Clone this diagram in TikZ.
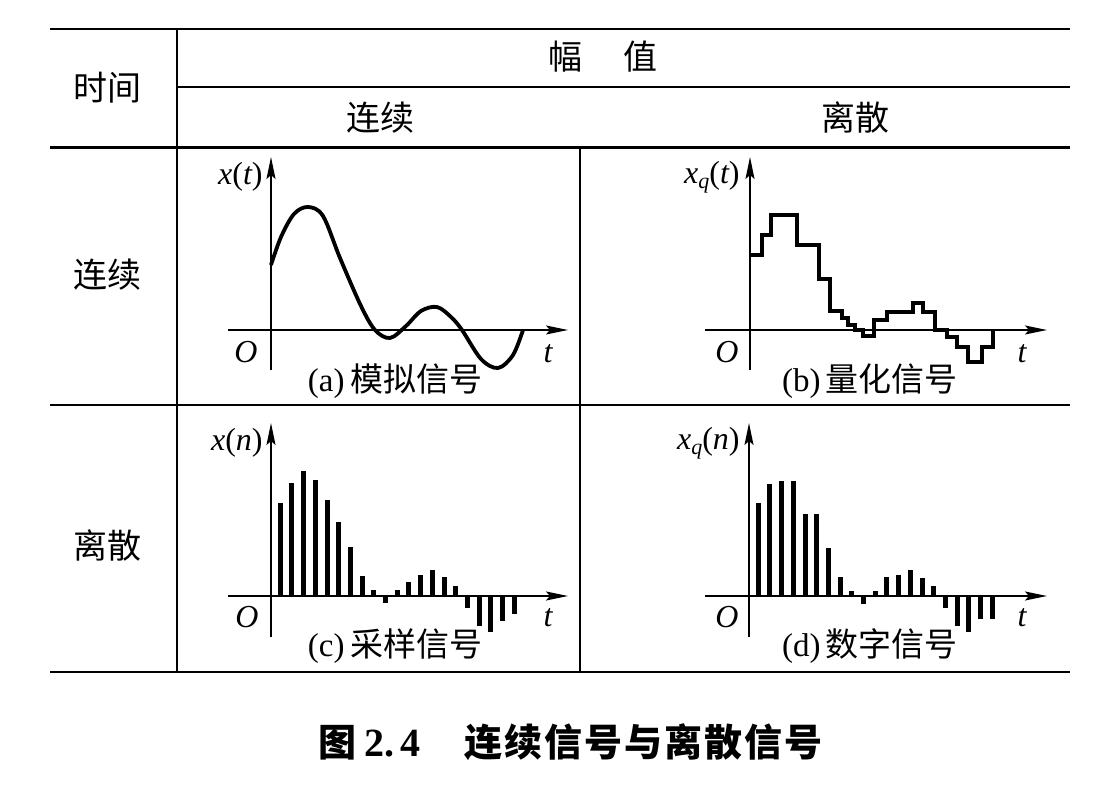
\documentclass[tikz,border=0pt]{standalone}
\usepackage{fontspec}
\setmainfont{Liberation Serif}
\newfontfamily\cjk{Noto Sans CJK SC}
\usetikzlibrary{arrows.meta}
\newcommand\capgap{\hspace{1pt}}
\begin{document}
\begin{tikzpicture}[x=0.5pt,y=-0.5pt,
  rule/.style={line width=1pt},
  thickrule/.style={line width=1.5pt},
  axis/.style={line width=0.9pt,-{Stealth[length=11pt,width=4.5pt,inset=2pt]}},
  sig/.style={line width=1.9pt, line join=miter},
  stem/.style={line width=2.5pt},
  head/.style={font=\cjk\fontsize{17}{17}\selectfont, inner sep=0pt},
  subcap/.style={font=\fontsize{16.5}{16.5}\selectfont, inner sep=0pt},
  lab/.style={font=\fontsize{16}{16}\selectfont\itshape, inner sep=0pt},
  figcap/.style={font=\fontsize{19}{19}\selectfont\bfseries, inner sep=0pt}]
\useasboundingbox (0,0) rectangle (1120,801);
\fill[white] (0,0) rectangle (1120,801);

% table rules
\draw[rule] (50,29) -- (1070,29);
\draw[rule] (177,87) -- (1070,87);
\draw[thickrule] (50,148) -- (1070,148);
\draw[rule] (50,405) -- (1070,405);
\draw[rule] (50,672) -- (1070,672);
\draw[rule] (177,29) -- (177,672);
\draw[rule] (580,148) -- (580,672);

% headers
\node[head] (time) at (107,88) {时间};
\node[head] (amp) at (603,57) {幅\hspace{21pt}值};
\node[head] (hcont) at (380,118) {连续};
\node[head] (hdisc) at (855,118) {离散};
\node[head] (rcont) at (107,275) {连续};
\node[head] (rdisc) at (107,545) {离散};

% (a) analog
\begin{scope}[shift={(271,330)}, y=0.5pt]
  \draw[axis] (0,-40) -- (0,173);
  \draw[axis] (-43,0) -- (297,0);
  \draw[sig] plot[smooth, tension=0.55] coordinates {(0,65) (10,93) (23,116) (37,123) (52,114) (69,72) (90,24) (104,0) (119,-8) (135,4) (150,19) (166,23) (180,13) (191,0) (210,-29) (227,-38) (242,-25) (252,0)};
\end{scope}
\node[lab, anchor=east] (alab) at (263,177) {x\upshape(\itshape t\upshape)};
\node[lab] (aO) at (246,352) {O};
\node[lab] (at) at (548,354) {t};
\node[subcap] (acap) at (395,381) {(a)\,{\cjk 模拟信号}};

% (b) quantized
\begin{scope}[shift={(750,330)}, y=0.5pt]
  \draw[axis] (0,-40) -- (0,173);
  \draw[axis] (-45,0) -- (297,0);
  \draw[sig] (0,75) -- (11.7,75) -- (11.7,95) -- (21,95) -- (21,115) -- (46.7,115) -- (46.7,85) -- (69,85) -- (69,51) -- (80,51) -- (80,19) -- (91.7,19) -- (91.7,12) -- (98.3,12) -- (98.3,5) -- (105,5) -- (105,0) -- (113,0) -- (113,-6) -- (124,-6) -- (124,10) -- (136.7,10) -- (136.7,18) -- (163.3,18) -- (163.3,27) -- (173.3,27) -- (173.3,18) -- (185,18) -- (185,0) -- (196.7,0) -- (196.7,-7) -- (206.7,-7) -- (206.7,-17) -- (218.3,-17) -- (218.3,-32) -- (231.7,-32) -- (231.7,-17) -- (243.3,-17) -- (243.3,0);
\end{scope}
\node[lab, anchor=east] (blab) at (740,177) {x\raisebox{-0.35ex}{\fontsize{11}{11}\selectfont q}\upshape(\itshape t\upshape)};
\node[lab] (bO) at (727,352) {O};
\node[lab] (bt) at (1022,354) {t};
\node[subcap] (bcap) at (870,381) {(b)\,{\cjk 量化信号}};

% (c) sampled
\begin{scope}[shift={(271,596)}, y=0.5pt]
  \draw[axis] (0,-41) -- (0,173);
  \draw[axis] (-43,0) -- (297,0);
  \foreach \n/\v in {1/93,2/113,3/125,4/116,5/96,6/74,7/49,8/20,9/6,10/-7,11/6,12/14,13/21,14/26,15/19,16/10,17/-12,18/-30,19/-36,20/-25,21/-18}
    \draw[stem] ({11.7*\n-2.5},0) -- ({11.7*\n-2.5},\v);
\end{scope}
\node[lab, anchor=east] (clab) at (263,443) {x\upshape(\itshape n\upshape)};
\node[lab] (cO) at (247,617) {O};
\node[lab] (ct) at (548,618) {t};
\node[subcap] (ccap) at (395,646) {(c)\,{\cjk 采样信号}};

% (d) digital
\begin{scope}[shift={(749,596)}, y=0.5pt]
  \draw[axis] (0,-41) -- (0,173);
  \draw[axis] (-44,0) -- (298,0);
  \foreach \n/\v in {1/93,2/112,3/115,4/115,5/82,6/82,7/48,8/19,9/5,10/-8,11/5,12/19,13/21,14/26,15/18,16/10,17/-12,18/-30,19/-36,20/-23,21/-23}
    \draw[stem] ({11.7*\n-2.5},0) -- ({11.7*\n-2.5},\v);
\end{scope}
\node[lab, anchor=east] (dlab) at (740,443) {x\raisebox{-0.35ex}{\fontsize{11}{11}\selectfont q}\upshape(\itshape n\upshape)};
\node[lab] (dO) at (727,617) {O};
\node[lab] (dt) at (1022,618) {t};
\node[subcap] (dcap) at (870,646) {(d)\,{\cjk 数字信号}};

% figure caption
\node[figcap, anchor=west] (fig) at (318,742) {{\cjk 图}\hspace{4pt}{\fontsize{20}{20}\selectfont 2.\hspace{3pt}4}\hspace{22pt}{\cjk 连\capgap 续\capgap 信\capgap 号\capgap 与\capgap 离\capgap 散\capgap 信\capgap 号}};
\end{tikzpicture}
\end{document}
